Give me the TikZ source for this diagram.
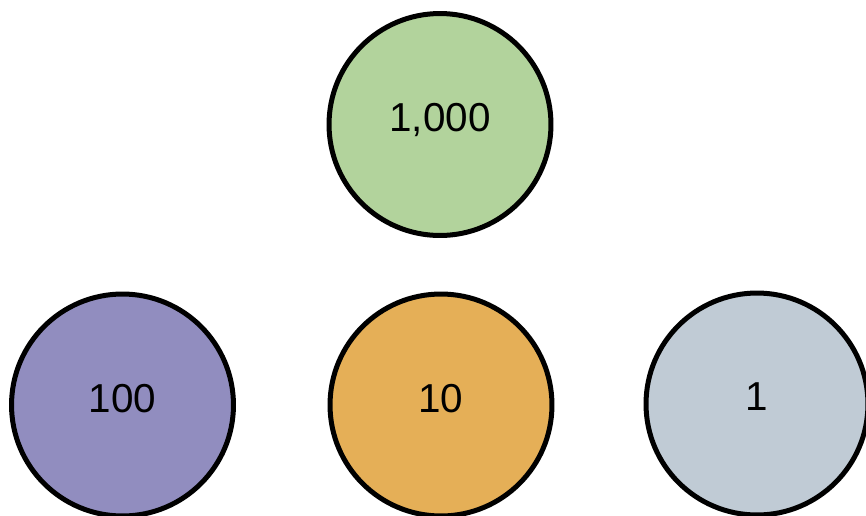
\documentclass[tikz,border=0pt]{standalone}
\usepackage{fontspec}
\setmainfont{Liberation Sans}
\definecolor{thousandgreen}{HTML}{B2D39C}
\definecolor{hundredpurple}{HTML}{918DBF}
\definecolor{tenorange}{HTML}{E5AF57}
\definecolor{onegray}{HTML}{C0CBD5}
\begin{document}
\begin{tikzpicture}[x=0.02cm, y=-0.02cm,
	place/.style={circle, draw=black, line width=0.1cm, minimum size=4.44cm, inner sep=0pt, font=\fontsize{23}{25}\selectfont, text depth=0.28cm}]
	\useasboundingbox (0,0) rectangle (866,515);
	
	\node (thousand) at (440, 124.5) [place, fill=thousandgreen]{1,000};
	
	\node (hundred) at (122.5, 405) [place, fill=hundredpurple]{100};
	\node (ten) at (441, 405) [place, fill=tenorange]{10};
	\node (one) at (757, 404) [place, fill=onegray]{1};
\end{tikzpicture}
\end{document}
